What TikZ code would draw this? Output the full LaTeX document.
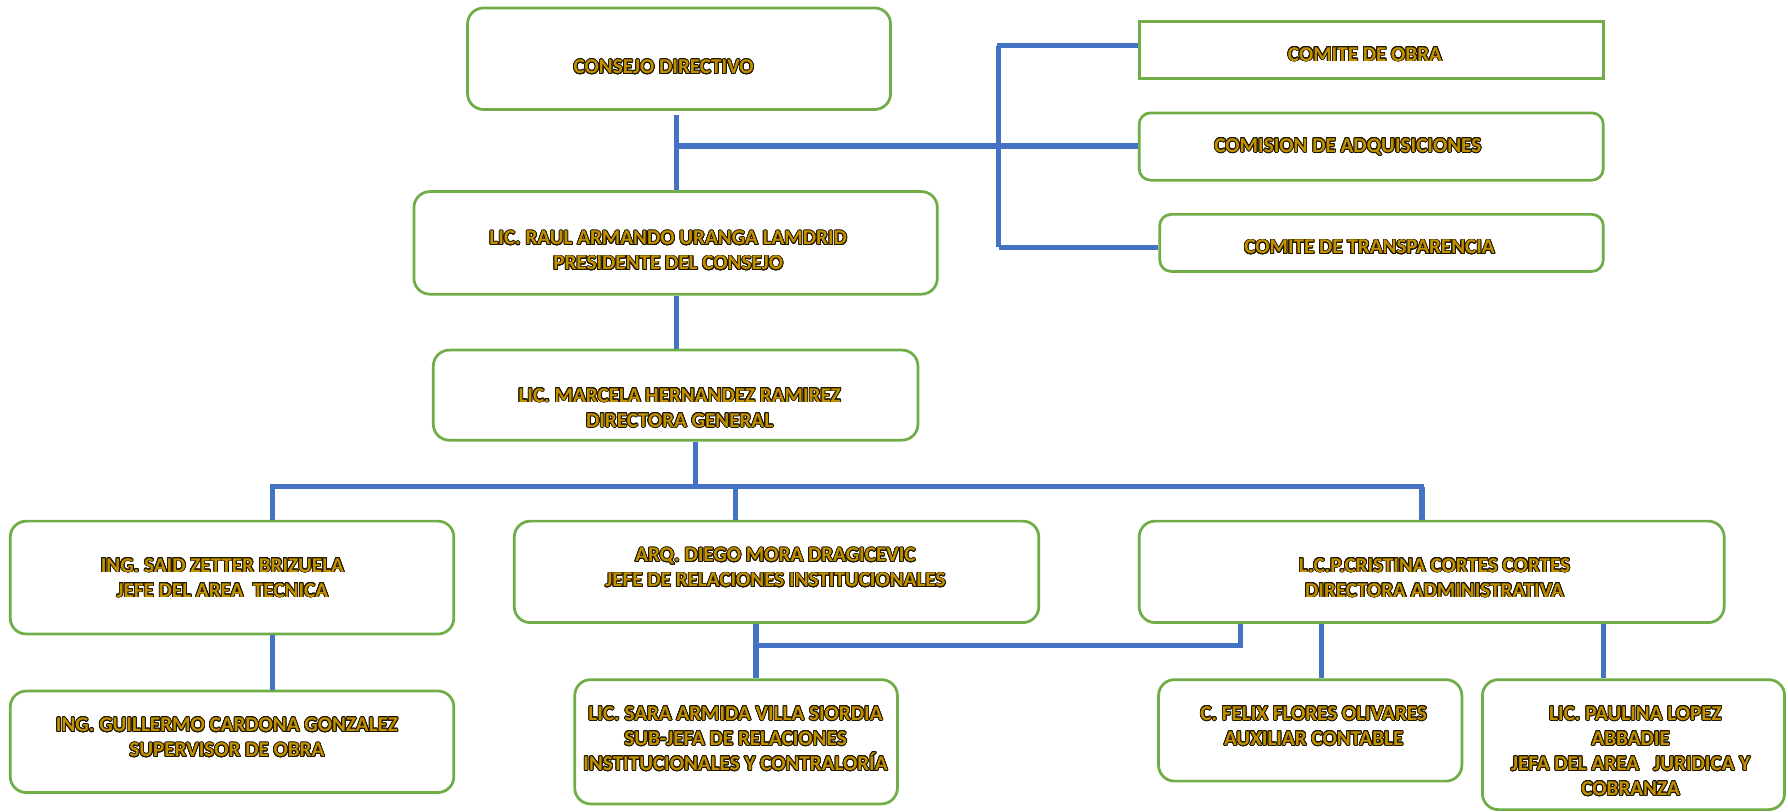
\documentclass[tikz,border=0pt]{standalone}
\usepackage{fontspec}
\setmainfont{Carlito}
\usepackage[copies]{contour}
\contourlength{0.7pt}
\contournumber{24}
\usetikzlibrary{calc}
\definecolor{boxgreen}{HTML}{70AD47}
\definecolor{linkblue}{HTML}{4472C4}
\definecolor{txtgold}{HTML}{C29000}
\newcommand{\gl}[1]{\contour{black!85!txtgold}{\color{txtgold}#1}}
\tikzset{
  orgbox/.style={draw=boxgreen, line width=2.4pt, rounded corners=14pt, fill=white, inner sep=0pt},
  sqbox/.style={draw=boxgreen, line width=2.4pt, fill=white, inner sep=0pt},
  lbl/.style={font=\fontsize{18.5}{22}\selectfont\bfseries, align=center, inner sep=0pt},
  conn/.style={draw=linkblue, line width=4.5pt},
  dconn/.style={draw=linkblue, line width=1.6pt, double=linkblue, double distance=1.8pt}
}
\begin{document}
\begin{tikzpicture}[x=1pt,y=-1pt]
\useasboundingbox (0,0) rectangle (1568,712);
% boxes
\node[orgbox, minimum width=371pt, minimum height=89pt] (cd) at (595.5,51.5) {};
\node[sqbox, minimum width=407pt, minimum height=50pt] (obra) at (1202.5,44) {};
\node[orgbox, rounded corners=10pt, minimum width=407pt, minimum height=59pt] (adq) at (1202.5,128.5) {};
\node[orgbox, rounded corners=10pt, minimum width=389pt, minimum height=50pt] (transp) at (1211.5,213) {};
\node[orgbox, minimum width=459pt, minimum height=90pt] (pres) at (592.5,213) {};
\node[orgbox, minimum width=425pt, minimum height=79pt] (dg) at (592.5,346.5) {};
\node[orgbox, minimum width=389pt, minimum height=99pt] (said) at (203.5,506.5) {};
\node[orgbox, minimum width=460pt, minimum height=89pt] (diego) at (681,501.5) {};
\node[orgbox, minimum width=513pt, minimum height=89pt] (cris) at (1255.5,501.5) {};
\node[orgbox, minimum width=389pt, minimum height=89pt] (guill) at (203.5,650.5) {};
\node[orgbox, minimum width=283pt, minimum height=109pt] (sara) at (645.5,650.5) {};
\node[orgbox, minimum width=266pt, minimum height=89pt] (felix) at (1149,640.5) {};
\node[orgbox, minimum width=265pt, minimum height=114pt] (paul) at (1432.5,653) {};
% labels
\node[lbl] (cdt) at (582,59) {\gl{CONSEJO DIRECTIVO}};
\node[lbl] (obrat) at (1197,48) {\gl{COMITE DE OBRA}};
\node[lbl] (adqt) at (1182,129) {\gl{COMISION DE ADQUISICIONES}};
\node[lbl] (transpt) at (1201,217) {\gl{COMITE DE TRANSPARENCIA}};
\node[lbl] (prest) at (586,220) {\gl{LIC. RAUL ARMANDO URANGA LAMDRID}\\\gl{PRESIDENTE DEL CONSEJO}};
\node[lbl] (dgt) at (596,358) {\gl{LIC. MARCELA HERNANDEZ RAMIREZ}\\\gl{DIRECTORA GENERAL}};
\node[lbl] (saidt) at (195,507) {\gl{ING. SAID ZETTER BRIZUELA}\\\gl{JEFE DEL AREA\ \ TECNICA}};
\node[lbl] (diegot) at (680,498) {\gl{ARQ. DIEGO MORA DRAGICEVIC}\\\gl{JEFE DE RELACIONES INSTITUCIONALES}};
\node[lbl] (crist) at (1258,507) {\gl{L.C.P.CRISTINA CORTES CORTES}\\\gl{DIRECTORA ADMINISTRATIVA}};
\node[lbl] (guillt) at (199,647) {\gl{ING. GUILLERMO CARDONA GONZALEZ}\\\gl{SUPERVISOR DE OBRA}};
\node[lbl] (sarat) at (645,648) {\gl{LIC. SARA ARMIDA VILLA SIORDIA}\\\gl{SUB-JEFA DE RELACIONES}\\\gl{INSTITUCIONALES Y CONTRALORÍA}};
\node[lbl] (felixt) at (1152,637) {\gl{C. FELIX FLORES OLIVARES}\\\gl{AUXILIAR CONTABLE}};
\node[lbl] (pault) at (1430,659) {\gl{\ \ LIC. PAULINA LOPEZ}\\\gl{ABBADIE}\\\gl{JEFA DEL AREA\ \ \ JURIDICA Y}\\\gl{COBRANZA}};
% upper connectors
\coordinate (cdx) at ($(cd.south)+(-2.5,4)$);
\draw[conn] (cdx) -- (cdx |- pres.north);
\coordinate (hj) at (cdx |- 0,128);
\draw[dconn] (hj) -- (hj -| adq.west);
\coordinate (bt) at (876,40);
\coordinate (bb) at (876,217);
\draw[conn] (bt) -- (bb);
\draw[conn] ($(bt)+(-2,0)$) -- (bt -| obra.west);
\draw[dconn] (bb) -- (bb -| transp.west);
\draw[conn] ($(pres.south)+(0.5,0)$) -- ($(dg.north)+(0.5,0)$);
% middle bus
\coordinate (dgx) at ($(dg.south)+(17.5,0)$);
\coordinate (mb) at (dgx |- 0,427);
\draw[conn] (dgx) -- (mb);
\coordinate (mbl) at (239,427);
\coordinate (mbc) at (645,427);
\coordinate (mbr) at (1247,427);
\draw[conn] ($(mbl)+(-2,0)$) -- ($(mbr)+(2,0)$);
\draw[conn] (mbl) -- (mbl |- said.north);
\draw[conn] (mbc) -- (mbc |- diego.north);
\draw[conn] (mbr) -- (mbr |- cris.north);
% lower connectors
\draw[conn] (mbl |- said.south) -- (mbl |- guill.north);
\coordinate (dx) at (663,546);
\coordinate (lj) at (663,566);
\coordinate (rj) at (1088,566);
\draw[conn] (dx |- diego.south) -- (dx |- sara.north);
\draw[conn] (lj) -- ($(rj)+(2,0)$);
\draw[conn] (rj |- cris.south) -- (rj);
\coordinate (fx) at (1159,546);
\draw[conn] (fx |- cris.south) -- (fx |- felix.north);
\coordinate (px) at (1406,546);
\draw[conn] (px |- cris.south) -- (px |- paul.north);
\end{tikzpicture}
\end{document}
